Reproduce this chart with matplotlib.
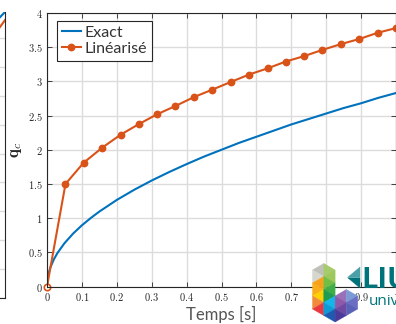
import matplotlib
matplotlib.use("Agg")
import matplotlib.pyplot as plt
from matplotlib.patches import Polygon
from matplotlib.ticker import FuncFormatter, MultipleLocator

plt.rcParams["mathtext.fontset"] = "cm"

# ---- data -------------------------------------------------------------
# exact solution q_c(t)
exact_t = [0, 0.002, 0.005, 0.01, 0.02, 0.03, 0.05, 0.075, 0.1, 0.125, 0.15,
           0.2, 0.25, 0.3, 0.35, 0.4, 0.45, 0.5, 0.55, 0.6, 0.65, 0.7, 0.75,
           0.8, 0.85, 0.9, 0.95, 1.0]
exact_q = [0, 0.127, 0.20, 0.283, 0.40, 0.49, 0.633, 0.775, 0.895, 1.0, 1.096,
           1.266, 1.415, 1.55, 1.674, 1.79, 1.90, 2.00, 2.10, 2.19, 2.28, 2.37,
           2.45, 2.53, 2.61, 2.68, 2.76, 2.83]

# linearised scheme, 20 time steps
lin_t = [0, 0.053, 0.105, 0.158, 0.211, 0.263, 0.316, 0.368, 0.421, 0.474,
         0.526, 0.579, 0.632, 0.684, 0.737, 0.789, 0.842, 0.895, 0.947, 1.0]
lin_q = [0, 1.50, 1.81, 2.03, 2.22, 2.375, 2.52, 2.64, 2.77, 2.88,
         2.99, 3.10, 3.19, 3.29, 3.37, 3.46, 3.545, 3.62, 3.71, 3.78]

# neighbouring panel (only its right edge is on the slide)
nb_t = [0.9857, 1.0]
nb_exact = [9.72, 9.9]
nb_lin = [9.38, 9.62]

legend_labels = ["Exact", "Linéarisé"]
x_label = "Temps [s]"
y_label = r"$\mathbf{q}_c$"

BLUE = "#0072BD"
ORANGE = "#D95319"
GRID = "#dcdcdc"
INK = "#262626"

W, H = 396, 324
fig = plt.figure(figsize=(W / 100, H / 100), dpi=100)


def fx(px):
    return px / W


def fy(py):
    return 1 - py / H


# ---- neighbouring panel edge -------------------------------------------
axn = fig.add_axes([fx(5 - 350), fy(298), 350 / W, 286 / H])
axn.set_xlim(0, 1)
axn.set_ylim(0, 9.9)
axn.yaxis.set_major_locator(MultipleLocator(1))
axn.set_xticks([])
axn.grid(True, axis="y", color=GRID, lw=1.0)
axn.tick_params(left=False, labelleft=False)
for s in ("top", "left"):
    axn.spines[s].set_visible(False)
for s in ("right", "bottom"):
    axn.spines[s].set_color(INK)
    axn.spines[s].set_linewidth(0.8)
axn.plot(nb_t, nb_exact, color=BLUE, lw=1.5)
axn.plot(nb_t, nb_lin, color=ORANGE, lw=1.5)

# ---- main panel ---------------------------------------------------------
ax = fig.add_axes([fx(47), fy(286.5), 349 / W, 273.5 / H])
ax.plot(exact_t, exact_q, color=BLUE, lw=1.5, label=legend_labels[0])
ax.plot(lin_t, lin_q, color=ORANGE, lw=1.5, marker="o", ms=4.6,
        markevery=list(range(1, len(lin_t))), label=legend_labels[1])
ax.plot(lin_t[:1], lin_q[:1], ls="none", marker="o", ms=4.6,
        mfc="white", mec=ORANGE, mew=1.2, clip_on=False)

ax.set_xlim(0, 1)
ax.set_ylim(0, 4)
ax.xaxis.set_major_locator(MultipleLocator(0.1))
ax.yaxis.set_major_locator(MultipleLocator(0.5))
fmt = FuncFormatter(lambda v, p: f"${v:.1f}$".replace(".0$", "$"))
ax.xaxis.set_major_formatter(fmt)
ax.yaxis.set_major_formatter(fmt)
ax.grid(True, color=GRID, lw=1.0)
ax.set_axisbelow(True)
ax.tick_params(direction="in", length=3.5, width=0.6, color=INK,
               top=True, right=True, labelsize=7.5, labelcolor=INK, pad=3)
for s in ax.spines.values():
    s.set_color(INK)
    s.set_linewidth(0.8)

ax.set_xlabel(x_label, family="Lato", fontsize=12, color="#555555")
ax.xaxis.set_label_coords(0.5, (286.5 - 314) / 273.5)
ax.xaxis.label.set_va("center")
ax.set_ylabel(y_label, fontsize=12, color=INK)
ax.yaxis.set_label_coords((15 - 47) / 349, 0.5)
ax.yaxis.label.set_va("center")

leg = ax.legend(loc="upper left", bbox_to_anchor=((57 - 47) / 349, (286.5 - 21) / 273.5),
                borderaxespad=0, fancybox=False, framealpha=1, edgecolor=INK,
                prop={"family": "Lato", "size": 11.5}, handlelength=1.2,
                handletextpad=0.25, borderpad=0.3, labelspacing=0.12)
leg.get_frame().set_linewidth(0.8)
for t in leg.get_texts():
    t.set_color("#333333")

# ---- university logo ----------------------------------------------------
x0, cw, y0, st = 312.5, 11.3, 263.5, 6.5
tiles = {
    0: ["#bfc0b8", "#d6d6cf", "#f7a11a", "#f9ad1c", "#fed100", "#f28a3c", "#e9393f"],
    1: ["#a6cb6a", "#9cc85c", "#72be44", "#3fae49", "#1e9c50", "#13b5ea", "#0d9ad6", "#1e5bb0"],
    2: [None, None, None, None, "#9a70b8", "#8c5aa8", "#6e4aa0", "#4b3a9a"],
    3: [None, None, None, None, "#7b9bd6", "#6a6fc4", "#5a62b8"],
}
for k, cols in tiles.items():
    xl, xr = x0 + k * cw, x0 + (k + 1) * cw
    for m, c in enumerate(cols):
        if c is None:
            continue
        yt = y0 + m * st
        if (k + m) % 2:
            pts = [(xl, yt), (xl, yt + 2 * st), (xr, yt + st)]
        else:
            pts = [(xr, yt), (xr, yt + 2 * st), (xl, yt + st)]
        fig.patches.append(Polygon([(fx(a), fy(b)) for a, b in pts], closed=True,
                                   transform=fig.transFigure, fc=c, ec=c, lw=0.3))
for pts, c in [([(347.5, 277.5), (360, 267), (360, 277.5)], "#4aa0a6"),
               ([(347.5, 277.5), (360, 277.5), (360, 288)], "#00737a")]:
    fig.patches.append(Polygon([(fx(a), fy(b)) for a, b in pts], closed=True,
                               transform=fig.transFigure, fc=c, ec=c, lw=0.3))
fig.text(fx(361), fy(288), "LIU", family="Open Sans", weight="bold",
         fontsize=21, color="#00737a", va="baseline")
fig.text(fx(369), fy(305), "universitet", family="Open Sans",
         fontsize=11, color="#00737a", va="baseline")

fig.savefig("out.png", dpi=100)
